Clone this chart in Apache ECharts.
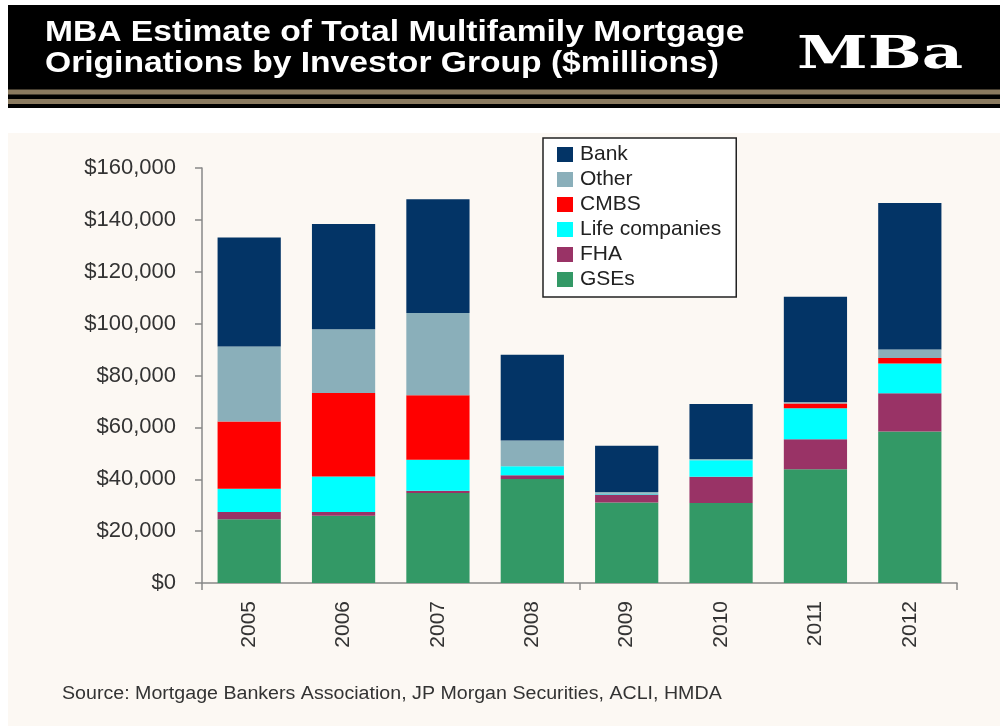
<!DOCTYPE html>
<html>
<head>
<meta charset="utf-8">
<script src="https://cdn.jsdelivr.net/npm/echarts@6/dist/echarts.min.js"></script>
<style>
html,body{margin:0;padding:0;background:#ffffff;}
#chart{width:1000px;height:726px;}
</style>
</head>
<body>
<div id="chart"></div>
<script>
const years = ['2005','2006','2007','2008','2009','2010','2011','2012'];
const gses  = [24600, 25900, 34700, 40100, 31000, 30800, 43900, 58400];
const fha   = [2800, 1500, 900, 1400, 3100, 10200, 11500, 14800];
const life  = [8900, 13700, 11900, 3500, 300, 6300, 12000, 11400];
const cmbs  = [26000, 32200, 24900, 0, 0, 0, 1800, 2100];
const other = [28900, 24500, 31700, 9900, 700, 500, 600, 3300];
const bank  = [42000, 40600, 43900, 33100, 17800, 21200, 40600, 56500];
const yTicks = [0, 20000, 40000, 60000, 80000, 100000, 120000, 140000, 160000];
const titleLines = ['MBA Estimate of Total Multifamily Mortgage', 'Originations by Investor Group ($millions)'];
const sourceText = 'Source: Mortgage Bankers Association, JP Morgan Securities, ACLI, HMDA';
const legendOrder = ['Bank','Other','CMBS','Life companies','FHA','GSEs'];

const colors = {
  'GSEs':'#339966', 'FHA':'#993366', 'Life companies':'#00ffff',
  'CMBS':'#ff0000', 'Other':'#8aafba', 'Bank':'#033466'
};
const stackSeries = [['GSEs',gses],['FHA',fha],['Life companies',life],['CMBS',cmbs],['Other',other],['Bank',bank]];

const chart = echarts.init(document.getElementById('chart'), null, {renderer:'canvas'});
const fmt = v => '$' + v.toLocaleString('en-US');

chart.setOption({
  animation:false,
  backgroundColor:'#ffffff',
  graphic:[
    {type:'rect', z:-10, shape:{x:8,y:133,width:992,height:593}, style:{fill:'#fcf8f3'}},
    {type:'rect', z:-10, shape:{x:8,y:5,width:992,height:103}, style:{fill:'#000000'}},
    {type:'rect', z:-9, shape:{x:8,y:89.5,width:992,height:5}, style:{fill:'#8a7a5f'}},
    {type:'rect', z:-9, shape:{x:8,y:99,width:992,height:5}, style:{fill:'#8a7a5f'}},
    {type:'text', x:45, y:33, scaleX:1.12, style:{text:titleLines[0], fill:'#ffffff', font:'bold 30px "Liberation Sans", Arial, sans-serif', verticalAlign:'middle'}},
    {type:'text', x:45, y:64, scaleX:1.12, style:{text:titleLines[1], fill:'#ffffff', font:'bold 30px "Liberation Sans", Arial, sans-serif', verticalAlign:'middle'}},
    {type:'text', x:797, y:56, scaleX:1.42, style:{text:'MBa', fill:'#ffffff', font:'bold 45px "DejaVu Serif", serif', verticalAlign:'middle'}},
    {type:'text', x:62, y:694, scaleX:1.09, style:{text:sourceText, fill:'#333333', font:'18px "Liberation Sans", Arial, sans-serif', verticalAlign:'middle'}}
  ],
  legend:{
    data:legendOrder,
    orient:'vertical',
    left:543, top:138,
    backgroundColor:'#ffffff',
    borderColor:'#222222', borderWidth:1.5,
    padding:[6,15,7,14],
    itemGap:4, itemWidth:16, itemHeight:15,
    icon:'rect',
    textStyle:{fontSize:21, color:'#222222', fontFamily:'"Liberation Sans", Arial, sans-serif', padding:[0,0,0,2]}
  },
  grid:{left:202, right:43, top:168, bottom:143},
  xAxis:{
    type:'category', data:years,
    axisLine:{lineStyle:{color:'#888888', width:1.5}},
    axisTick:{show:true, interval:3, length:7, lineStyle:{color:'#888888', width:1.5}},
    axisLabel:{rotate:90, margin:18, fontSize:21, color:'#333333', fontFamily:'"Liberation Sans", Arial, sans-serif'}
  },
  yAxis:{
    type:'value', min:0, max:160000, interval:20000,
    splitLine:{show:false},
    axisLine:{show:true, lineStyle:{color:'#888888', width:1.5}},
    axisTick:{show:true, length:7, lineStyle:{color:'#888888', width:1.5}},
    axisLabel:{margin:26, fontSize:22, color:'#333333', fontFamily:'"Liberation Sans", Arial, sans-serif',
      formatter: v => yTicks.includes(v) ? fmt(v) : ''}
  },
  series: stackSeries.map(([name, vals]) => ({
    name, type:'bar', stack:'total', data:vals,
    barCategoryGap:'33%',
    itemStyle:{color:colors[name]},
    emphasis:{disabled:true}
  }))
});
</script>
</body>
</html>
